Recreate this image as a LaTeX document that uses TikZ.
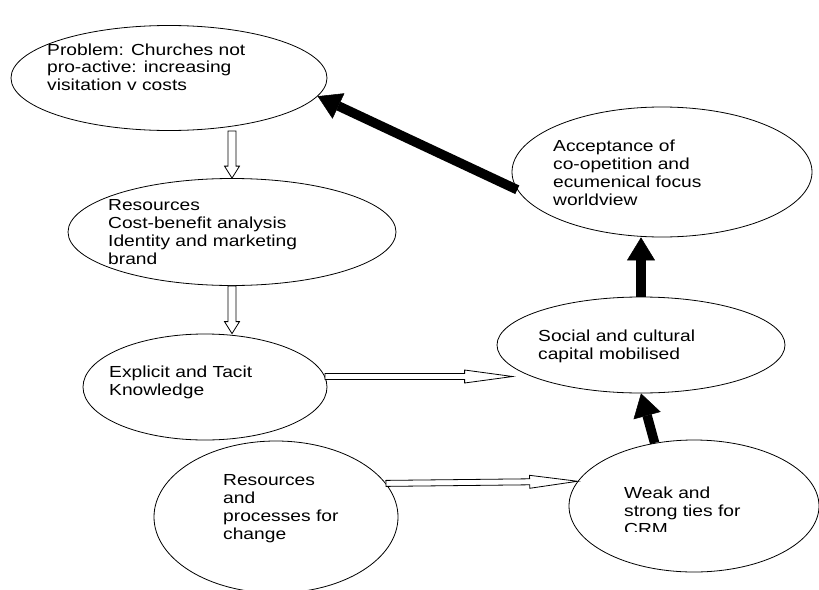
\documentclass[tikz,border=0pt]{standalone}
\usepackage{fontspec}
\setmainfont{Liberation Sans}[FakeStretch=1.2]
\usetikzlibrary{shapes.geometric,arrows.meta,calc}

% open block arrow: from, to, shaft half width, head half width, head length
\newcommand{\hollowarrow}[5]{%
  \coordinate (ha) at (#1);
  \coordinate (hb) at (#2);
  \coordinate (hc) at ($(hb)!#5!(ha)$);
  \draw[line width=0.8pt,fill=white] ($(ha)!#3!90:(hb)$) -- ($(hc)!#3!-90:(ha)$) -- ($(hc)!#4!-90:(ha)$) -- (hb)
    -- ($(hc)!#4!90:(ha)$) -- ($(hc)!#3!90:(ha)$) -- ($(ha)!#3!-90:(hb)$) -- cycle;
}

\begin{document}
\begin{tikzpicture}[x=1pt,y=-1pt,
  bubble/.style={ellipse,draw,line width=0.8pt,inner sep=0pt},
  words/.style={anchor=base west,align=left,inner sep=0pt,font=\fontsize{16}{18}\selectfont},
  bigarrow/.style={line width=9.5pt,-{Triangle[length=23pt,width=28pt,line width=0.5pt]}}]
	\useasboundingbox (0,0) rectangle (819,589);
	%Left column
		%Problem
		\node [bubble,minimum width=316pt,minimum height=105pt] (prob) at (169,78) {};
		\node [words,font=\fontsize{16}{17.5}\selectfont] (probtext) at (47,90) {Problem: Churches not\\pro-active: increasing\\visitation v costs};
		%Resources
		\node [bubble,minimum width=328pt,minimum height=107pt] (res) at (232,232) {};
		\node [words] (restext) at (108,264) {Resources\\Cost-benefit analysis\\Identity and marketing\\brand};
		%Explicit and tacit knowledge
		\node [bubble,minimum width=244pt,minimum height=106pt] (expl) at (205,387) {};
		\node [words] (expltext) at (109,395) {Explicit and Tacit\\Knowledge};
		%Resources and processes
		\node [bubble,minimum width=244pt,minimum height=152pt] (proc) at (276,517) {};
		\node [words] (proctext) at (223,539) {Resources\\and\\processes for\\change};
	%Right column
		%Acceptance
		\node [bubble,minimum width=300pt,minimum height=130pt] (acc) at (662,172) {};
		\node [words] (acctext) at (553,205) {Acceptance of\\co-opetition and\\ecumenical focus\\worldview};
		%Social and cultural capital
		\node [bubble,minimum width=288pt,minimum height=96pt] (soc) at (641,345) {};
		\node [words] (soctext) at (538,359) {Social and cultural\\capital mobilised};
		%Weak and strong ties
		\node [bubble,minimum width=250pt,minimum height=132pt] (weak) at (694,506) {};
		\begin{scope}
			\clip (560,440) rectangle (819,531);
			\node [words] (weaktext) at (624,534) {Weak and\\strong ties for\\CRM};
		\end{scope}
	%Open arrows
		\hollowarrow{res.north |- prob.south}{res.north}{4pt}{7.5pt}{12pt}
		\hollowarrow{res.south}{res.south |- expl.north}{4pt}{7.5pt}{12pt}
		\hollowarrow{expl.5.8}{$(expl.5.8 -| soc.west)+(16,0)$}{3pt}{6.5pt}{48pt}
		\hollowarrow{proc.17.6}{weak.168.6}{3pt}{6.5pt}{48pt}
	%Black arrows
		\draw [bigarrow] (weak.122) -- (soc.south);
		\draw [bigarrow] (soc.north) -- (soc.north |- acc.south);
		\draw [bigarrow] (acc.187) -- (prob.-7);
\end{tikzpicture}
\end{document}
